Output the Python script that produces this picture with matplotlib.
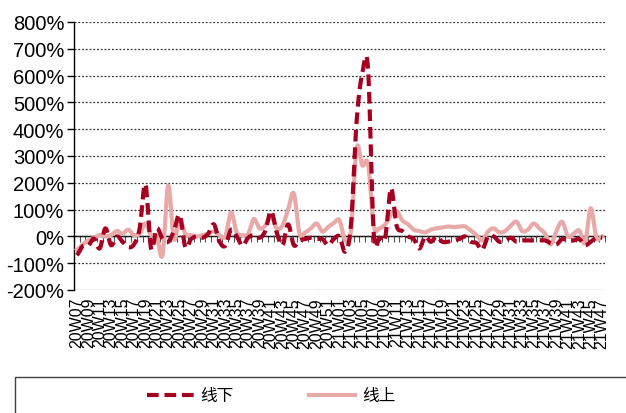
import numpy as np
import matplotlib
matplotlib.use("Agg")
import matplotlib.pyplot as plt
from matplotlib.lines import Line2D
from matplotlib.patches import Rectangle

# weekly YoY growth (%), 2020W07 .. 2021W47
weeks = [f"20W{w:02d}" for w in range(7, 53)] + [f"21W{w:02d}" for w in range(1, 48)]

offline = [
    -70, -37, -35, -8, -45, 30, -33, 0, -20, -40,
    -30, 30, 195, -45, 30, -10, -20, 20, 80, -40,
    -10, 0, -5, 10, 45, -20, -35, 25, 0, -35,
    -5, 5, -5, 20, 95, 15, -33, 45, -33, -15,
    -10, -5, -10, -10, -33, -10, 0, -57, 40, 430,
    610, 625, 10, -5, -5, 180, 40, 20, 0, -10,
    -45, 0, -20, 0, -20, -20, -15, -10, 0, -20,
    -25, -50, 0, 0, -20, -15, -5, -20, -15, -15,
    -15, -15, -15, -25, -30, -10, -15, -15, -10, -33,
    -20, -5, -5,
]

online = [
    -50, -30, -15, -5, 5, 0, 5, 20, 10, 25,
    5, 10, 48, 5, 0, -70, 190, -10, 65, 10,
    5, 0, 5, 10, 18, 5, 0, 90, 15, 5,
    10, 65, 30, 40, 75, 30, 40, 100, 160, 10,
    15, 30, 48, 18, 35, 50, 60, -15, 20, 330,
    265, 270, 40, 30, 45, 80, 95, 60, 45, 25,
    20, 15, 25, 30, 33, 37, 35, 37, 37, 22,
    5, -15, 18, 30, 15, 20, 40, 55, 20, 25,
    48, 30, 10, -30, 20, 55, 0, 10, 22, -25,
    105, -5, 0,
]

labels = ["线下", "线上"]
c_off = "#A50021"
c_on = "#E8AAA8"


def smooth(vals, n=12):
    # Catmull-Rom spline through the weekly points
    y = np.asarray(vals, dtype=float)
    p = np.concatenate([[y[0]], y, [y[-1]]])
    xs, ys = [], []
    t = np.linspace(0, 1, n, endpoint=False)
    for i in range(len(y) - 1):
        p0, p1, p2, p3 = p[i], p[i + 1], p[i + 2], p[i + 3]
        seg = 0.5 * (2 * p1 + (-p0 + p2) * t
                     + (2 * p0 - 5 * p1 + 4 * p2 - p3) * t ** 2
                     + (-p0 + 3 * p1 - 3 * p2 + p3) * t ** 3)
        xs.append(i + t)
        ys.append(seg)
    xs.append([len(y) - 1])
    ys.append([y[-1]])
    return np.concatenate(xs), np.concatenate(ys)


fig = plt.figure(figsize=(6.26, 4.14), dpi=100)
ax = fig.add_axes([74 / 626, 1 - 291 / 414, 531 / 626, 268 / 414])

n = len(weeks)
x_off, y_off = smooth(offline)
x_on, y_on = smooth(online)
ax.plot(x_off, y_off, color=c_off, lw=3.0, dashes=(2.8, 1.4), zorder=4)
ax.plot(x_on, y_on, color=c_on, lw=3.0, zorder=3)

ax.set_xlim(-0.5, n - 0.5)
ax.set_ylim(-200, 800)
ax.set_yticks(range(-200, 801, 100))
ax.set_yticklabels([f"{v}%" for v in range(-200, 801, 100)],
                   fontsize=14.5, family="Liberation Sans")
ax.tick_params(axis="y", direction="out", length=5, width=1, pad=2)
ax.yaxis.grid(True, linestyle=(0, (1.5, 1.5)), color="#333333", lw=0.9)

ax.set_xticks(range(0, n, 2))
ax.set_xticklabels(weeks[::2], rotation=90, fontsize=11.5,
                   family="Liberation Sans")
ax.tick_params(axis="x", length=0, pad=5)

for s in ["top", "right", "bottom"]:
    ax.spines[s].set_visible(False)
ax.spines["left"].set_linewidth(1)

# category axis crossing at 0%
zero = ax.secondary_xaxis(0.2)
zero.set_xticks(np.arange(-0.5, n, 1))
zero.set_xticklabels([])
zero.tick_params(direction="out", length=4, width=0.8, color="#555555")
zero.spines["bottom"].set_linewidth(1)

handles = [
    Line2D([], [], color=c_off, lw=3.0, dashes=(2.8, 1.4)),
    Line2D([], [], color=c_on, lw=3.0),
]
fig.legend(handles, labels, loc="center", bbox_to_anchor=(271 / 626, 1 - 397 / 414),
           ncol=2, frameon=False, handlelength=2.8, handletextpad=0.4,
           columnspacing=4.5, prop={"family": "Noto Sans CJK SC", "size": 12})
fig.patches.append(Rectangle((15 / 626, -0.1), 1.1, (414 - 378) / 414 + 0.1,
                             transform=fig.transFigure, fill=False,
                             edgecolor="#404040", lw=1))

fig.savefig("out.png", dpi=100)
